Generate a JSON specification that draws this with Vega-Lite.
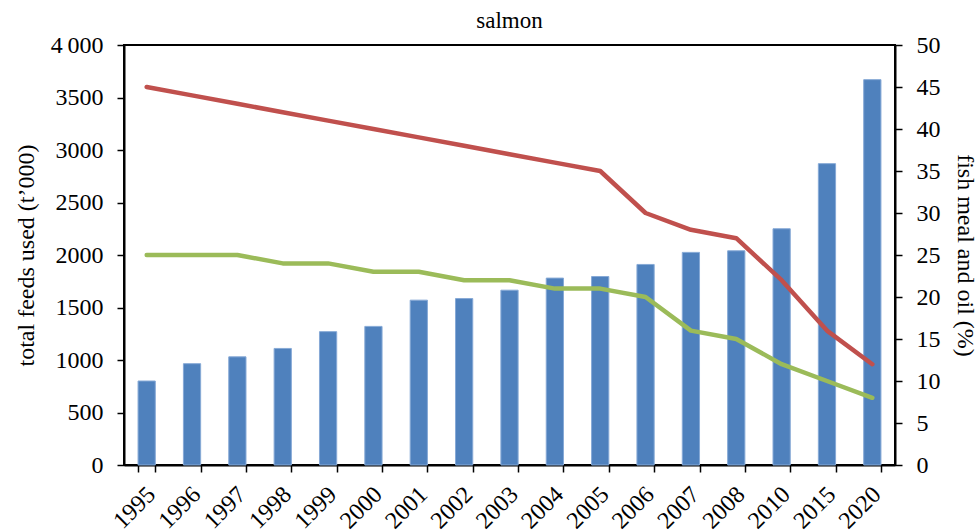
{
  "$schema": "https://vega.github.io/schema/vega-lite/v6.json",
  "width": 771,
  "height": 420,
  "autosize": {"type": "none"},
  "padding": {"left": 124, "top": 45, "right": 84, "bottom": 66},
  "background": "white",
  "title": {"text": "salmon", "font": "Liberation Serif", "fontSize": 23, "fontWeight": "normal", "color": "#000000", "offset": 0},
  "config": {
    "view": {"stroke": "#000000", "strokeWidth": 2},
    "axis": {
      "domainColor": "#000000",
      "domainWidth": 2,
      "tickColor": "#000000",
      "tickWidth": 1.5,
      "tickSize": 7,
      "grid": false,
      "labelFont": "Liberation Serif",
      "labelFontSize": 24,
      "labelColor": "#000000",
      "titleFont": "Liberation Serif",
      "titleFontSize": 24,
      "titleFontWeight": "normal",
      "titleColor": "#000000"
    }
  },
  "datasets": {
    "feeds": [
      {"year": "1995", "feeds": 800},
      {"year": "1996", "feeds": 965},
      {"year": "1997", "feeds": 1030},
      {"year": "1998", "feeds": 1110},
      {"year": "1999", "feeds": 1270},
      {"year": "2000", "feeds": 1320},
      {"year": "2001", "feeds": 1570},
      {"year": "2002", "feeds": 1585},
      {"year": "2003", "feeds": 1665},
      {"year": "2004", "feeds": 1780},
      {"year": "2005", "feeds": 1795},
      {"year": "2006", "feeds": 1910},
      {"year": "2007", "feeds": 2025},
      {"year": "2008", "feeds": 2040},
      {"year": "2010", "feeds": 2250},
      {"year": "2015", "feeds": 2870},
      {"year": "2020", "feeds": 3670}
    ],
    "fish": [
      {"year": "1995", "series": "fish meal", "pct": 45},
      {"year": "1996", "series": "fish meal", "pct": 44},
      {"year": "1997", "series": "fish meal", "pct": 43},
      {"year": "1998", "series": "fish meal", "pct": 42},
      {"year": "1999", "series": "fish meal", "pct": 41},
      {"year": "2000", "series": "fish meal", "pct": 40},
      {"year": "2001", "series": "fish meal", "pct": 39},
      {"year": "2002", "series": "fish meal", "pct": 38},
      {"year": "2003", "series": "fish meal", "pct": 37},
      {"year": "2004", "series": "fish meal", "pct": 36},
      {"year": "2005", "series": "fish meal", "pct": 35},
      {"year": "2006", "series": "fish meal", "pct": 30},
      {"year": "2007", "series": "fish meal", "pct": 28},
      {"year": "2008", "series": "fish meal", "pct": 27},
      {"year": "2010", "series": "fish meal", "pct": 22},
      {"year": "2015", "series": "fish meal", "pct": 16},
      {"year": "2020", "series": "fish meal", "pct": 12},
      {"year": "1995", "series": "fish oil", "pct": 25},
      {"year": "1996", "series": "fish oil", "pct": 25},
      {"year": "1997", "series": "fish oil", "pct": 25},
      {"year": "1998", "series": "fish oil", "pct": 24},
      {"year": "1999", "series": "fish oil", "pct": 24},
      {"year": "2000", "series": "fish oil", "pct": 23},
      {"year": "2001", "series": "fish oil", "pct": 23},
      {"year": "2002", "series": "fish oil", "pct": 22},
      {"year": "2003", "series": "fish oil", "pct": 22},
      {"year": "2004", "series": "fish oil", "pct": 21},
      {"year": "2005", "series": "fish oil", "pct": 21},
      {"year": "2006", "series": "fish oil", "pct": 20},
      {"year": "2007", "series": "fish oil", "pct": 16},
      {"year": "2008", "series": "fish oil", "pct": 15},
      {"year": "2010", "series": "fish oil", "pct": 12},
      {"year": "2015", "series": "fish oil", "pct": 10},
      {"year": "2020", "series": "fish oil", "pct": 8}
    ]
  },
  "layer": [
    {
      "data": {"name": "feeds"},
      "mark": {"type": "bar", "color": "#4F81BD", "stroke": "#86A9D6", "strokeWidth": 1},
      "encoding": {
        "x": {
          "field": "year",
          "type": "ordinal",
          "scale": {"paddingInner": 0.62, "paddingOuter": 0.31},
          "axis": {"title": null, "labelAngle": -45, "tickBand": "extent", "labelPadding": 10, "labelOffset": -4}
        },
        "y": {
          "field": "feeds",
          "type": "quantitative",
          "scale": {"domain": [0, 4000]},
          "axis": {
            "title": "total feeds used (t\u2019000)",
            "values": [0, 500, 1000, 1500, 2000, 2500, 3000, 3500, 4000],
            "format": "d",
            "labelExpr": "datum.value == 4000 ? '4\u2009000' : datum.label",
            "labelPadding": 14,
            "titlePadding": 12
          }
        }
      }
    },
    {
      "data": {"name": "fish"},
      "mark": {"type": "line", "strokeWidth": 4.5, "strokeCap": "round", "strokeJoin": "round"},
      "encoding": {
        "x": {"field": "year", "type": "ordinal"},
        "y": {
          "field": "pct",
          "type": "quantitative",
          "scale": {"domain": [0, 50]},
          "axis": {
            "orient": "right",
            "title": "fish meal and oil (%)",
            "values": [0, 5, 10, 15, 20, 25, 30, 35, 40, 45, 50],
            "labelPadding": 14,
            "titlePadding": 12
          }
        },
        "color": {
          "field": "series",
          "type": "nominal",
          "scale": {"domain": ["fish meal", "fish oil"], "range": ["#C0504D", "#9BBB59"]},
          "legend": null
        }
      }
    }
  ],
  "resolve": {"scale": {"y": "independent"}}
}
